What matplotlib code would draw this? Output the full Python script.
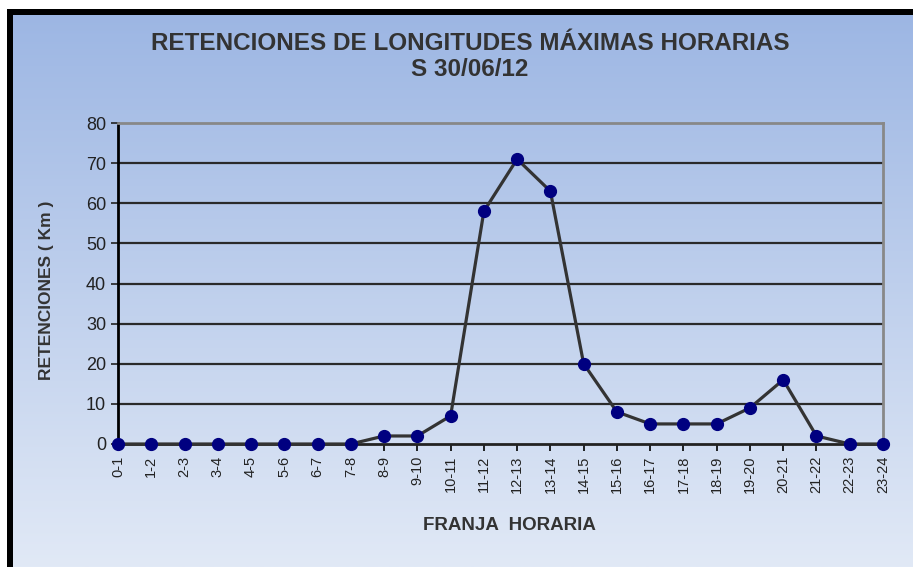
"""Retenciones horarias"""
import numpy as np
import matplotlib
matplotlib.use("Agg")
import matplotlib.pyplot as plt
from matplotlib.colors import LinearSegmentedColormap
from matplotlib.patches import Rectangle

franjas = ["0-1", "1-2", "2-3", "3-4", "4-5", "5-6", "6-7", "7-8", "8-9", "9-10",
           "10-11", "11-12", "12-13", "13-14", "14-15", "15-16", "16-17", "17-18",
           "18-19", "19-20", "20-21", "21-22", "22-23", "23-24"]
retenciones = [0, 0, 0, 0, 0, 0, 0, 0, 2, 2, 7, 58, 71, 63, 20, 8, 5, 5, 5, 9, 16, 2, 0, 0]

plt.rcParams['font.family'] = ['Liberation Sans', 'DejaVu Sans']

W, H = 913, 567
fig = plt.figure(figsize=(W / 100, H / 100), dpi=100)

# fondo con degradado (azul arriba, claro abajo)
bg = fig.add_axes([0, 0, 1, 1], zorder=-10)
cmap = LinearSegmentedColormap.from_list("fondo", ["#9bb5e3", "#e1e9f6"])
bg.imshow(np.linspace(0, 1, 256).reshape(-1, 1), aspect="auto", cmap=cmap,
          extent=[0, 1, 1, 0], origin="upper")
bg.set_xlim(0, 1)
bg.set_ylim(1, 0)
bg.axis("off")
# zona blanca arriba e izquierda y marco negro
fig.patches.append(Rectangle((0, 1 - 9 / H), 1, 9 / H, transform=fig.transFigure,
                             facecolor="white", edgecolor="none", zorder=-5))
fig.patches.append(Rectangle((0, 0), 7 / W, 1, transform=fig.transFigure,
                             facecolor="white", edgecolor="none", zorder=-5))
fig.patches.append(Rectangle((7 / W, 1 - 15 / H), 1, 6 / H, transform=fig.transFigure,
                             facecolor="black", edgecolor="none", zorder=-4))
fig.patches.append(Rectangle((7 / W, 0), 6 / W, 1 - 9 / H, transform=fig.transFigure,
                             facecolor="black", edgecolor="none", zorder=-4))

ax = fig.add_axes([118 / W, 1 - 444 / H, (883 - 118) / W, (444 - 123) / H])
ax.patch.set_alpha(0)

x = np.arange(len(franjas))
ax.plot(x, retenciones, color="#333333", lw=2.3, marker="o", markersize=8.5,
        markerfacecolor="#000080", markeredgecolor="#000080", clip_on=False, zorder=5)

ax.set_xlim(0, len(franjas) - 1)
ax.set_ylim(0, 80)
ax.set_yticks(range(0, 81, 10))
ax.set_xticks(x)
ax.set_xticklabels(franjas, rotation=90, fontsize=10.5, color="#222222")
ax.tick_params(axis="y", labelsize=13, colors="#222222", length=5, width=1.2, direction="out")
ax.tick_params(axis="x", length=5, width=1.2, direction="out", color="black")
for t in range(10, 80, 10):
    ax.axhline(t, color="#2a2a2a", lw=1.6, zorder=1)

ax.spines["left"].set_color("black")
ax.spines["left"].set_linewidth(2)
ax.spines["bottom"].set_color("#222222")
ax.spines["bottom"].set_linewidth(2)
ax.spines["top"].set_color("#888888")
ax.spines["top"].set_linewidth(2)
ax.spines["right"].set_color("#888888")
ax.spines["right"].set_linewidth(2)

fig.text(47 / W, 1 - 290 / H, "RETENCIONES ( Km )", rotation=90, ha="center",
         va="center", fontsize=12.5, fontweight="bold", color="#333333")
fig.text(509 / W, 1 - 526 / H, "FRANJA  HORARIA", ha="center", va="center",
         fontsize=13.5, fontweight="bold", color="#333333")

fig.text(470 / W, 1 - 44 / H, "RETENCIONES DE LONGITUDES MÁXIMAS HORARIAS",
         ha="center", va="center", fontsize=17.5, fontweight="bold", color="#333333")
fig.text(470 / W, 1 - 70 / H, "S 30/06/12", ha="center", va="center",
         fontsize=17.5, fontweight="bold", color="#333333")

fig.savefig("out.png", dpi=100)
